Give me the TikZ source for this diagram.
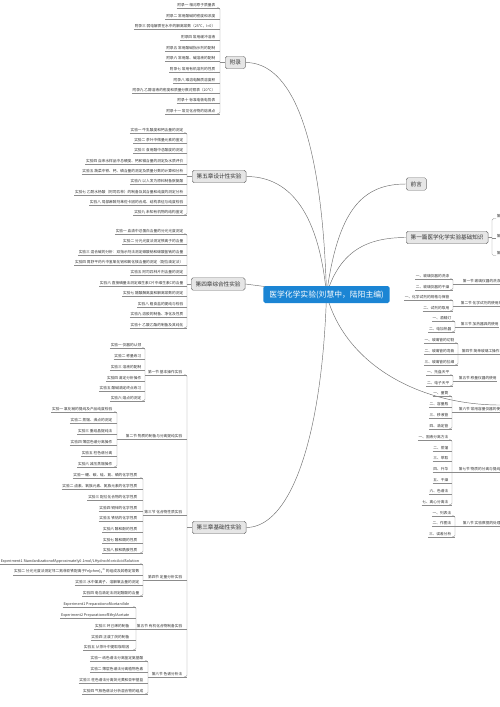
\documentclass[tikz,border=0pt]{standalone}
\usepackage{fontspec}
\setmainfont{Noto Sans CJK SC}
\usetikzlibrary{backgrounds}
\definecolor{rootblue}{HTML}{1B85D4}
\definecolor{boxfill}{HTML}{E6E6E6}
\definecolor{boxline}{HTML}{6E6E6E}
\definecolor{linkc}{HTML}{8C8C8C}
\definecolor{itemtxt}{HTML}{333333}
\tikzset{
 item/.style={font=\fontsize{3.7}{4}\selectfont, text=itemtxt, inner xsep=0.6pt, inner ysep=0.7pt},
 link/.style={draw=linkc, line width=0.35pt},
 curve/.style={draw=boxline, line width=0.45pt},
 chap/.style={draw=boxline, fill=boxfill, rounded corners=1.8pt, line width=0.45pt,
   font=\fontsize{5.6}{6}\selectfont, text=itemtxt, inner xsep=4.5pt, inner ysep=0pt, minimum height=12.5pt},
 rootbox/.style={fill=rootblue, rounded corners=1.8pt, text=white,
   font=\fontsize{7.8}{9}\selectfont, inner xsep=6pt, inner ysep=0pt, minimum height=17pt},
}
% prefix, text right x, bracket x, count, list, parent y
\newcommand\LG[6]{%
 \foreach \yy/\txt [count=\i] in {#5} {
   \node[item,anchor=south east] (#1\i) at (#2,\yy+2.8) {\txt};
   \coordinate (#1b\i) at (#3,\yy+2.8);
   \draw[link] (#1\i.south west) -- (#1b\i);
 }
 \draw[link,rounded corners=1.5pt] (#1b1) ++(-3,0) -- (#1b1) -- (#1b#4) -- ++(-3,0);
 \coordinate (#1m) at (#3,#6);
}
\begin{document}
\begin{tikzpicture}[x=1pt,y=-1pt]
\useasboundingbox (0,0) rectangle (500,707);
\clip (0,0) rectangle (500,707);

% ---------- main nodes ----------
\node[rootbox] (root) at (326.5,294.5) {医学化学实验(刘慧中，陆阳主编)};
\node[chap,anchor=west] (fulu) at (225,62.5) {附录};
\node[chap,anchor=west] (ch5) at (192,176.5) {第五章设计性实验};
\node[chap,anchor=west] (ch4) at (191,284) {第四章综合性实验};
\node[chap,anchor=west] (ch3) at (192,527.5) {第三章基础性实验};
\node[chap,anchor=west] (qy) at (406,184) {前言};
\node[chap,anchor=west] (p1) at (406,237.5) {第一篇医学化学实验基础知识};
\coordinate (offr) at (500,405);

\begin{scope}[on background layer]
 \draw[curve] (fulu.east) .. controls (290,62.5) and (322,130) .. (root.center);
 \draw[curve] (ch5.east) .. controls (285,176.5) and (318,205) .. (root.center);
 \draw[curve] (ch4.east) -- (root.center);
 \draw[curve] (ch3.east) .. controls (290,527.5) and (322,440) .. (root.center);
 \draw[curve] (root.center) .. controls (338,210) and (362,184) .. (qy.west);
 \draw[curve] (root.center) .. controls (340,250) and (368,237.5) .. (p1.west);
 \draw[curve] (root.center) .. controls (345,365) and (420,405) .. (offr);
\end{scope}

% ---------- 附录 ----------
\LG{F}{216}{220}{11}{5/附录一 相对原子质量表, 16/附录二 常用酸碱的密度和浓度,
 26/附录三 弱电解质在水中的解离常数（25℃，I=0）, 37/附录四 常用缓冲溶液,
 48/附录五 常用酸碱指示剂的配制, 58/附录六 常用酸、碱溶液的配制,
 69/附录七 常用有机溶剂的性质, 80/附录八 难溶电解质溶度积,
 90/附录九 乙醇溶液的密度和质量分数对照表（20℃）, 100/附录十 标准电极电势表,
 111/附录十一 常见化合物的熔沸点}{62.5}
\draw[link] (Fm) -- (fulu.west);

% ---------- 第五章 ----------
\LG{E}{184}{187}{9}{130/实验一 牛乳酸度和钙含量的测定, 140/实验二 茶叶中微量元素的鉴定,
 150/实验三 食用醋中总酸度的测定, 161/实验四 自来水样品中总硬度、钙和镁含量的测定及水质评价,
 171/实验五 蔬菜中铁、钙、磷含量的测定及质量分数的计算和分析, 181/实验六 以人发为原料制备胱氨酸,
 192/实验七 乙酰水杨酸（阿司匹林）的制备及其含量和纯度的测定分析,
 202/实验八 局部麻醉剂苯佐卡因的合成、结构表征与纯度检验, 212/实验九 未知有机物的结构鉴定}{176.5}
\draw[link] (Em) -- (ch5.west);

% ---------- 第四章 ----------
\LG{D}{184}{187}{10}{231/实验一 血清中总蛋白含量的分光光度测定, 241/实验二 分光光度法测定铁离子的含量,
 252/实验三 混合碱的分析：双指示剂法测定碳酸钠和碳酸氢钠的含量,
 262/实验四 胃舒平药片中氢氧化铝和氧化镁含量的测定（配位滴定法）,
 272/实验五 阿司匹林片剂含量的测定, 283/实验六 直接碘量法测定维生素C片中维生素C的含量,
 293/实验七 醋酸解离度和解离常数的测定, 304/实验八 粗食盐的提纯与检验,
 314/实验九 溶胶的制备、净化及性质, 325/实验十 乙酸乙酯的制备及其纯化}{284}
\draw[link] (Dm) -- (ch4.west);

% ---------- 第三章 ----------
\LG{S}{183}{187}{6}{372/第一节 基本操作实验, 436/第二节 物质的制备与分离提纯实验,
 512/第三节 化合物性质实验, 577/第四节 定量分析实验, 626/第五节 有机化合物制备实验,
 674/第六节 色谱分析法}{527.5}
\draw[link] (Sm) -- (ch3.west);

\LG{A}{142}{145}{6}{345/实验一 仪器的认领, 356/实验二 称量练习, 367/实验三 溶液的配制,
 378/实验四 滴定分析操作, 388/实验五 酸碱滴定终点练习, 398/实验六 熔点的测定}{374.8}
\draw[link] (Am) -- (S1.south west);

\LG{B}{113}{117}{6}{409/实验一 氯化钠的提纯及产品纯度检验, 420/实验二 蒸馏、沸点的测定,
 431/实验三 重结晶提纯法, 442/实验四 薄层色谱分离操作, 453/实验五 柱色谱分离,
 464/实验六 减压蒸馏操作}{438.8}
\draw[link] (Bm) -- (S2.south west);

\LG{C}{138}{143}{8}{475/实验一 硼、碳、硅、氮、磷的化学性质, 486/实验二 卤素、氧族元素、氮族元素的化学性质,
 497/实验三 配位化合物的化学性质, 508/实验四 铜锌的化学性质, 518/实验五 铁钴的化学性质,
 529/实验六 醇和酚的性质, 540/实验七 醛和酮的性质, 550/实验八 胺和酰胺性质}{514.8}
\draw[link] (Cm) -- (S3.south west);

\LG{G}{140}{143}{4}{561/{Experiment1 StandardizationofApproximately0.1mol/LHydrochloricAcidSolution},
 572/{实验二 分光光度法测定邻二氮菲亚铁配离子Fe(phen)\textsubscript{3}\textsuperscript{2+}的组成及其稳定常数},
 582/实验三 水中氯离子、溶解氧含量的测定, 593/实验四 电位滴定法测定醋酸的含量}{579.8}
\draw[link] (Gm) -- (S4.south west);

\LG{H}{130}{136}{5}{604/Experiment1 PreparationofAcetanilide, 615/Experiment2 PreparationofEthylAcetate,
 626/实验三 环己烯的制备, 637/实验四 正溴丁烷的制备, 647/实验五 从茶叶中提取咖啡因}{628.8}
\draw[link] (Hm) -- (S5.south west);

\LG{I}{144}{148}{4}{658/实验一 纸色谱法分离鉴定氨基酸, 669/实验二 薄层色谱法分离植物色素,
 680/实验三 柱色谱法分离荧光黄和亚甲基蓝, 691/实验四 气相色谱法分析混合物的组成}{676.8}
\draw[link] (Im) -- (S6.south west);

% ---------- 第一篇 children (cut at right edge) ----------
\node[item,anchor=south west] (K1) at (496,218.5) {第一章 化学实验基本常识};
\node[item,anchor=south west] (K2) at (496,238.5) {第二章 基本操作技术};
\node[item,anchor=south west] (K3) at (496,255.5) {第三章 实验数据处理};
\coordinate (kb1) at (492,218.5);
\coordinate (kb2) at (492,238.5);
\coordinate (kb3) at (492,255.5);
\coordinate (km) at (492,237.5);
\draw[link,rounded corners=1.5pt] (K1.south west) -- (kb1) -- (kb3) -- (K3.south west);
\draw[link] (kb2) -- (K2.south west);
\draw[link] (p1.east) -- (km);

% ---------- right side sections ----------
\LG{qa}{450}{453}{2}{276/一、玻璃仪器的洗涤, 287/二、玻璃仪器的干燥}{283.8}
\node[item,anchor=south west] (L1) at (462,283.8) {第一节 玻璃仪器的洗涤与干燥};
\draw[link] (qam) -- (L1.south west) -- (L1.south east);

\LG{qb}{450}{453}{2}{297/一、化学试剂的规格与保管, 308/二、试剂的取用}{305.8}
\node[item,anchor=south west] (L2) at (460,305.8) {第二节 化学试剂的使用规则};
\draw[link] (qbm) -- (L2.south west) -- (L2.south east);

\LG{qc}{452}{455}{2}{318/一、酒精灯, 329/二、电加热器}{326.8}
\node[item,anchor=south west] (L3) at (460,326.8) {第三节 加热器具的使用};
\draw[link] (qcm) -- (L3.south west) -- (L3.south east);

\LG{qd}{455}{458}{3}{340/一、玻璃管的切割, 351/二、玻璃管的弯曲, 362/三、玻璃管的拉细}{353.8}
\node[item,anchor=south west] (L4) at (461,353.8) {第四节 简单玻璃工操作};
\draw[link] (qdm) -- (L4.south west) -- (L4.south east);

\LG{qe}{450}{453}{2}{372/一、托盘天平, 383/二、电子天平}{380.8}
\node[item,anchor=south west] (L5) at (458,380.8) {第五节 称量仪器的使用};
\draw[link] (qem) -- (L5.south west) -- (L5.south east);

\LG{qf}{449}{452}{4}{393/一、量筒, 404/二、容量瓶, 415/三、移液管, 426/四、滴定管}{411.8}
\node[item,anchor=south west] (L6) at (458,411.8) {第六节 常用容量仪器的使用};
\draw[link] (qfm) -- (L6.south west) -- (L6.south east);

\LG{qg}{449}{452}{7}{437/一、固液分离方法, 448/二、蒸馏, 458/三、萃取, 469/四、升华,
 480/五、干燥, 491/六、色谱法, 502/七、离心分离法}{471.8}
\node[item,anchor=south west] (L7) at (458,471.8) {第七节 物质的分离与提纯方法};
\draw[link] (qgm) -- (L7.south west) -- (L7.south east);

\LG{qh}{452}{455}{3}{513/一、列表法, 523/二、作图法, 534/三、误差分析}{525.8}
\node[item,anchor=south west] (L8) at (462,525.8) {第八节 实验数据的处理};
\draw[link] (qhm) -- (L8.south west) -- (L8.south east);
\end{tikzpicture}
\end{document}
